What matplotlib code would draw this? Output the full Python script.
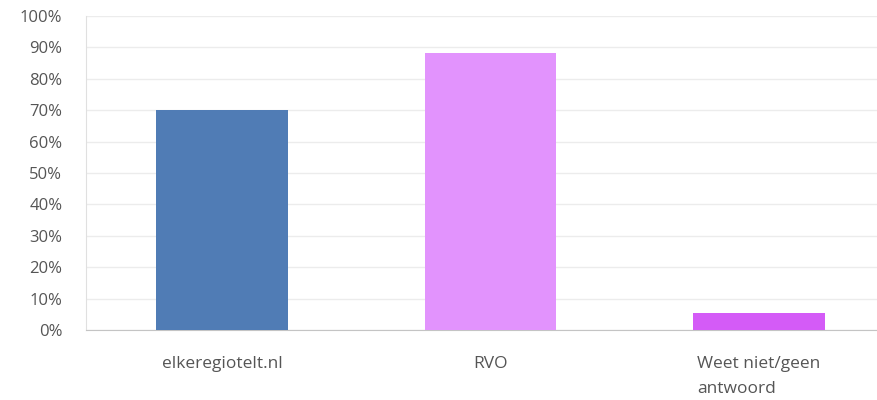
import matplotlib.pyplot as plt
from matplotlib.ticker import PercentFormatter

# survey answers (percent)
categories = ["elkeregiotelt.nl", "RVO", "Weet niet/geen\nantwoord"]
values = [70.2, 88.3, 5.4]
colors = ["#507cb5", "#e293fd", "#d45bf7"]

plt.rcParams["font.family"] = ["Open Sans", "DejaVu Sans"]

fig = plt.figure(figsize=(8.78, 4.0), dpi=100)
ax = fig.add_axes([86 / 878, 70 / 400, 792 / 878, 314 / 400])

ax.bar(range(len(categories)), values, width=0.49, color=colors, zorder=3)

ax.set_ylim(0, 100)
ax.set_xlim(-0.506, 2.443)
ax.set_yticks(range(0, 101, 10))
ax.yaxis.set_major_formatter(PercentFormatter(decimals=0))
ax.set_xticks(range(len(categories)))
ax.set_xticklabels(categories, multialignment="left", linespacing=1.75)

ax.grid(axis="y", color="#ececec", linewidth=1, zorder=0)
for s in ["top", "right"]:
    ax.spines[s].set_visible(False)
ax.spines["left"].set_color("#e0e0e0")
ax.spines["bottom"].set_color("#c4c4c4")

ax.tick_params(axis="y", length=0, pad=17, labelsize=12, labelcolor="#555555")
ax.tick_params(axis="x", length=0, pad=19, labelsize=12.5, labelcolor="#555555")
for lbl in ax.get_xticklabels():
    lbl.set_verticalalignment("top")

fig.savefig("out.png", dpi=100)
